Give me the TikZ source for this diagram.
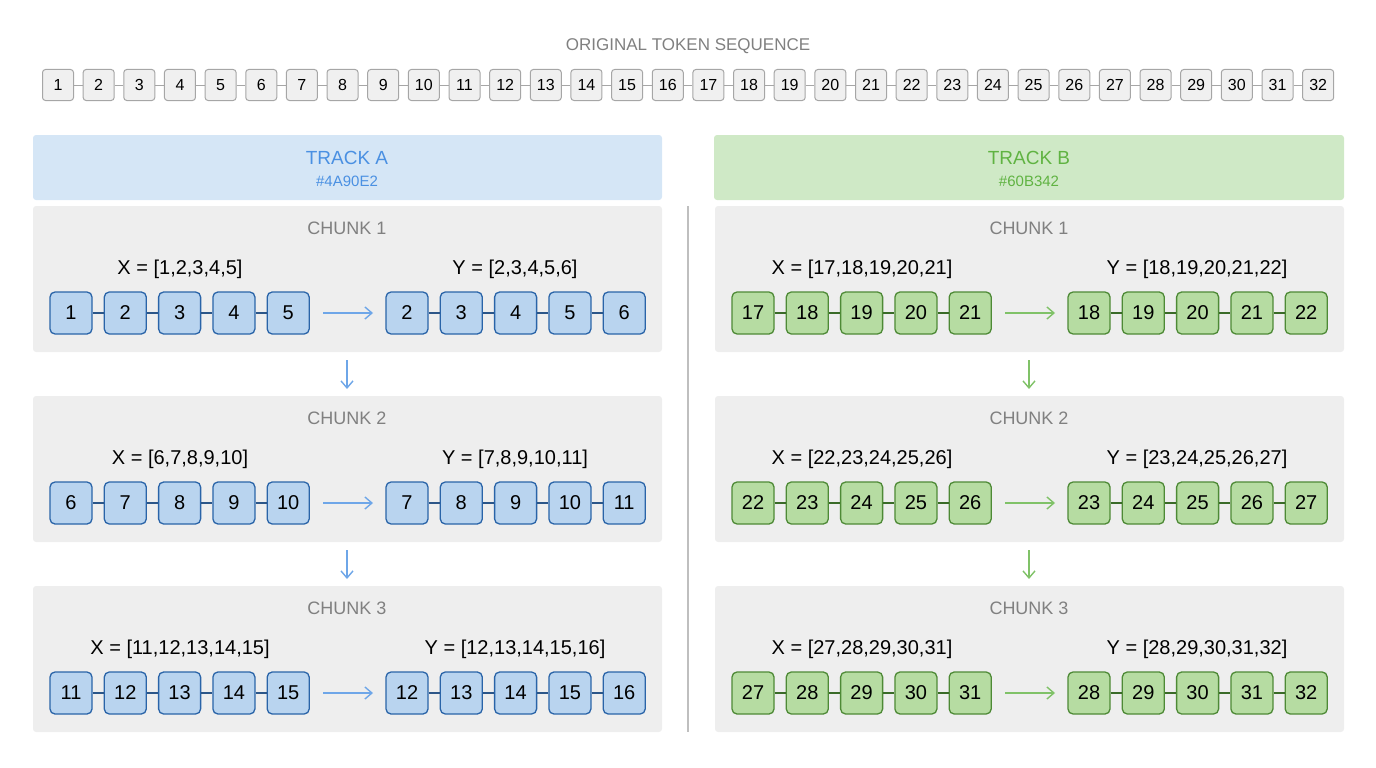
\documentclass[tikz,border=0pt]{standalone}
\usepackage{fontspec}
\setmainfont{Liberation Sans}
\usetikzlibrary{arrows.meta}
\definecolor{bfill}{HTML}{B9D4EF}\definecolor{bdraw}{HTML}{2A64A8}
\definecolor{gfill}{HTML}{B6DCA2}\definecolor{gdraw}{HTML}{4E8A36}
\definecolor{hA}{HTML}{D5E6F6}\definecolor{hB}{HTML}{CFE9C6}
\definecolor{tA}{HTML}{4A90E2}\definecolor{tB}{HTML}{60B342}
\definecolor{panel}{HTML}{EEEEEE}
\begin{document}
\begin{tikzpicture}[x=1pt,y=-1pt,
 seq/.style={draw=gray!70,fill=gray!12,rounded corners=3pt,minimum width=31pt,minimum height=31pt,inner sep=0pt,line width=1pt,font=\fontsize{16}{16}\selectfont},
 tokA/.style={draw=bdraw,fill=bfill,rounded corners=5pt,minimum width=42pt,minimum height=42pt,inner sep=0pt,line width=1.3pt,font=\fontsize{20}{20}\selectfont},
 tokB/.style={tokA,draw=gdraw,fill=gfill},
 pan/.style={fill=panel,rounded corners=3pt},
 ttl/.style={text=gray,font=\fontsize{18}{18}\selectfont},
 lbl/.style={font=\fontsize{20}{20}\selectfont},
 arr/.style={-{Straight Barb[length=7pt,width=12pt]},line width=1.4pt}]
\useasboundingbox (0,0) rectangle (1376,768);
\node[text=gray,font=\fontsize{17}{17}\selectfont] (ot) at (688,46) {ORIGINAL TOKEN SEQUENCE};
\foreach \i in {1,...,32}{\node[seq] (s\i) at ({58+(\i-1)*40.65},85) {\i};}
\foreach \i [evaluate=\i as \j using int(\i+1)] in {1,...,31}{\draw[gray!70,line width=1pt] (s\i) -- (s\j);}
\fill[hA,rounded corners=3pt] (33,135) rectangle (662,200);
\fill[hB,rounded corners=3pt] (714,135) rectangle (1344,200);
\node[text=tA,font=\fontsize{19}{19}\selectfont] (ha) at (347,158) {TRACK A};
\node[text=tA,font=\fontsize{15}{15}\selectfont] (ha2) at (347,181) {\#4A90E2};
\node[text=tB,font=\fontsize{19}{19}\selectfont] (hb) at (1029,158) {TRACK B};
\node[text=tB,font=\fontsize{15}{15}\selectfont] (hb2) at (1029,181) {\#60B342};
\draw[gray!50,line width=1.2pt] (688,206) -- (688,732);
\foreach \tr/\ox/\sty/\col/\base in {A/0/tokA/tA/0, B/682/tokB/tB/16}{
 \foreach \c in {1,2,3}{
  \pgfmathsetmacro{\oy}{(\c-1)*190}
  \fill[pan] (33+\ox,206+\oy) rectangle (662+\ox,352+\oy);
  \node[ttl] (t\tr\c) at (347+\ox,228+\oy) {CHUNK \c};
  \foreach \k in {1,...,5}{
   \pgfmathtruncatemacro{\v}{\base+(\c-1)*5+\k}
   \pgfmathtruncatemacro{\w}{\v+1}
   \node[\sty] (x\tr\c\k) at ({71+\ox+(\k-1)*54.3},313+\oy) {\v};
   \node[\sty] (y\tr\c\k) at ({407+\ox+(\k-1)*54.3},313+\oy) {\w};
  }
  \foreach \k [evaluate=\k as \kk using int(\k+1)] in {1,...,4}{
   \draw[\col!60!black,line width=1.3pt] (x\tr\c\k) -- (x\tr\c\kk);
   \draw[\col!60!black,line width=1.3pt] (y\tr\c\k) -- (y\tr\c\kk);}
  \pgfmathtruncatemacro{\a}{\base+(\c-1)*5+1}
  \pgfmathtruncatemacro{\b}{\a+1}\pgfmathtruncatemacro{\cc}{\a+2}\pgfmathtruncatemacro{\d}{\a+3}\pgfmathtruncatemacro{\e}{\a+4}\pgfmathtruncatemacro{\f}{\a+5}
  \node[lbl] (lx\tr\c) at (180+\ox,269+\oy) {X = [\a,\b,\cc,\d,\e]};
  \node[lbl] (ly\tr\c) at (515+\ox,269+\oy) {Y = [\b,\cc,\d,\e,\f]};
  \coordinate (p\tr\c) at (323+\ox,313+\oy);
  \coordinate (q\tr\c) at (373+\ox,313+\oy);
  \draw[arr,\col!80] (p\tr\c) -- (q\tr\c);
 }
 \foreach \c in {1,2}{
  \pgfmathsetmacro{\oy}{(\c-1)*190}
  \coordinate (u\tr\c) at (347+\ox,360+\oy);
  \coordinate (d\tr\c) at (347+\ox,389+\oy);
  \draw[arr,\col!80] (u\tr\c) -- (d\tr\c);
 }
}
\end{tikzpicture}
\end{document}
